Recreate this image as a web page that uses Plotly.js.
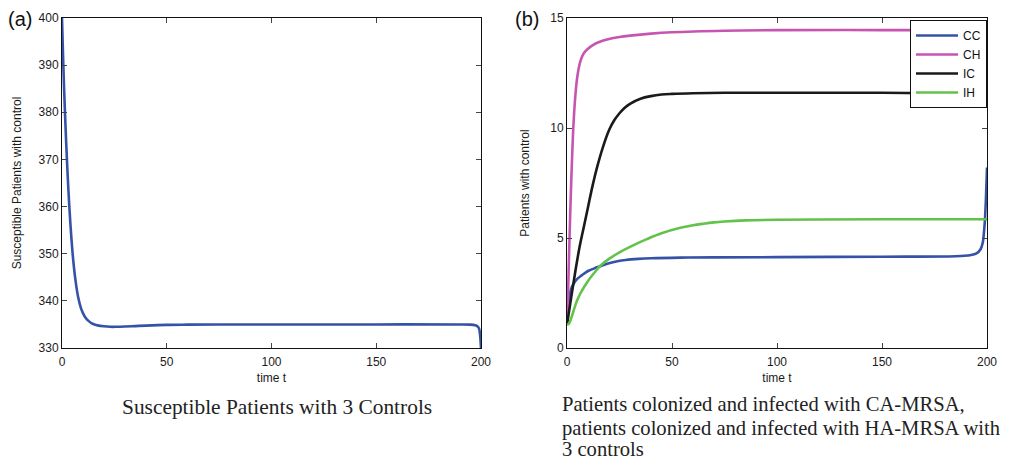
<!DOCTYPE html>
<html>
<head>
<meta charset="utf-8">
<script src="https://cdn.plot.ly/plotly-3.0.1.min.js"></script>
<style>html,body{margin:0;padding:0;background:#fff;}#chart{width:1009px;height:461px;}</style>
</head>
<body>
<div id="chart"></div>
<script>
// Panel (a): susceptible patients
const tS = [0, 0.5, 1, 1.5, 2, 2.5, 3, 3.5, 4, 4.5, 5, 5.5, 6.2, 7, 7.8, 9, 10, 11, 12.5, 14, 15.5, 17, 20, 23, 26, 30, 35, 40, 50, 60, 75, 100, 150, 190, 195, 197, 198, 199, 199.5, 200];
const S  = [400, 392, 385, 379, 373.5, 368.5, 364, 360, 356.4, 353.2, 350.4, 348, 345.2, 342.6, 340.6, 338.5, 337.4, 336.6, 335.8, 335.3, 335.0, 334.8, 334.6, 334.5, 334.5, 334.55, 334.65, 334.75, 334.9, 334.95, 335.0, 335.0, 335.0, 335.0, 334.95, 334.85, 334.7, 334.2, 333.0, 330.0];

// Panel (b): colonized / infected patients
const tCC = [0, 0.5, 1, 1.5, 2, 3, 5, 7, 10, 13, 16, 20, 24, 28, 34, 40, 54, 70, 100, 150, 185, 192, 195, 197, 198, 198.5, 199, 199.5, 200];
const CC  = [1.1, 1.7, 2.2, 2.5, 2.7, 2.9, 3.15, 3.3, 3.5, 3.62, 3.72, 3.85, 3.94, 4.0, 4.05, 4.08, 4.11, 4.12, 4.13, 4.15, 4.17, 4.22, 4.3, 4.5, 4.8, 5.2, 5.8, 6.8, 8.2];

const tCH = [0, 0.5, 1, 1.5, 2, 3, 4, 5, 6, 7, 8, 10, 12.5, 15, 20, 25, 30, 40, 50, 75, 100, 150, 200];
const CH  = [1.05, 2.5, 4.3, 6.0, 7.5, 10.0, 11.5, 12.4, 12.9, 13.2, 13.4, 13.6, 13.78, 13.9, 14.05, 14.14, 14.2, 14.29, 14.35, 14.42, 14.45, 14.45, 14.45];

const tIC = [0, 2, 4, 6, 8, 10, 12, 14, 17, 20, 22.5, 25, 27.5, 30, 35, 40, 45, 50, 60, 75, 100, 150, 195, 200];
const IC  = [1.05, 2.3, 3.5, 4.6, 5.5, 6.4, 7.3, 8.1, 9.1, 9.9, 10.35, 10.67, 10.92, 11.1, 11.33, 11.45, 11.52, 11.55, 11.58, 11.6, 11.6, 11.6, 11.6, 11.7];

const tIH = [0, 1, 2, 3, 4, 5, 6.5, 8, 10, 13, 16, 20, 25, 30, 38, 45, 54, 60, 65, 70, 75, 85, 100, 120, 150, 200];
const IH  = [1.05, 1.12, 1.35, 1.65, 1.95, 2.2, 2.5, 2.75, 3.05, 3.42, 3.75, 4.05, 4.35, 4.6, 4.95, 5.22, 5.47, 5.58, 5.65, 5.71, 5.75, 5.8, 5.83, 5.84, 5.85, 5.85];

const seriesNames = ['CC', 'CH', 'IC', 'IH'];
const xTicks = [0, 50, 100, 150, 200];
const yTicksA = [330, 340, 350, 360, 370, 380, 390, 400];
const yTicksB = [0, 5, 10, 15];

const captionA = 'Susceptible Patients with 3 Controls';
const captionB = ['Patients colonized and infected with CA-MRSA,', 'patients colonized and infected with HA-MRSA with', '3 controls'];

const colors = {S: '#3552a8', CC: '#3552a8', CH: '#c655b2', IC: '#1a1a1a', IH: '#63c24a'};
const LW = 2.6;
const lineStyle = c => ({color: c, width: LW, shape: 'spline', smoothing: 1});

const traces = [
  {x: tS, y: S, xaxis: 'x', yaxis: 'y', mode: 'lines', line: lineStyle(colors.S), showlegend: false},
  {x: tCC, y: CC, xaxis: 'x2', yaxis: 'y2', mode: 'lines', name: seriesNames[0], line: lineStyle(colors.CC)},
  {x: tCH, y: CH, xaxis: 'x2', yaxis: 'y2', mode: 'lines', name: seriesNames[1], line: lineStyle(colors.CH)},
  {x: tIC, y: IC, xaxis: 'x2', yaxis: 'y2', mode: 'lines', name: seriesNames[2], line: lineStyle(colors.IC)},
  {x: tIH, y: IH, xaxis: 'x2', yaxis: 'y2', mode: 'lines', name: seriesNames[3], line: lineStyle(colors.IH)}
];

const W = 1009, H = 461;
const yDom = [1 - 348 / H, 1 - 18 / H];
const sans = 'Liberation Sans, Arial, sans-serif';
const serif = 'Liberation Serif, Times New Roman, serif';
const tickFont = {family: sans, size: 12, color: '#1a1a1a'};
const titleFont = {family: sans, size: 12, color: '#1a1a1a'};

function axisBase(extra) {
  return Object.assign({
    showline: true, linecolor: '#111', linewidth: 1, mirror: 'ticks',
    ticks: 'inside', ticklen: 5, tickwidth: 1, tickcolor: '#444',
    showgrid: false, zeroline: false, tickfont: tickFont, fixedrange: true
  }, extra);
}

const capFont = {family: serif, size: 20.6, color: '#222'};
const annotations = [
  {text: '(a)', xref: 'paper', yref: 'paper', x: 6 / W, y: 1 - 19 / H, xanchor: 'left', yanchor: 'middle', showarrow: false,
    font: {family: sans, size: 20, color: '#111'}},
  {text: '(b)', xref: 'paper', yref: 'paper', x: 513 / W, y: 1 - 19 / H, xanchor: 'left', yanchor: 'middle', showarrow: false,
    font: {family: sans, size: 20, color: '#111'}},
  {text: captionA, xref: 'paper', yref: 'paper', x: 277 / W, y: 1 - 407 / H, xanchor: 'center', yanchor: 'middle', showarrow: false,
    font: {family: serif, size: 21.4, color: '#222'}}
];
const capY = [404, 428, 448.5];
captionB.forEach((t, i) => annotations.push({text: t, xref: 'paper', yref: 'paper', x: 560 / W, y: 1 - capY[i] / H,
  xanchor: 'left', yanchor: 'middle', align: 'left', showarrow: false, font: capFont}));

const layout = {
  width: W, height: H, autosize: false,
  margin: {l: 0, r: 0, t: 0, b: 0},
  paper_bgcolor: '#fff', plot_bgcolor: '#fff',
  xaxis: axisBase({domain: [62 / W, 481 / W], range: [0, 200], tickvals: xTicks, anchor: 'y', ticklabelstandoff: 3,
    title: {text: 'time t', font: titleFont, standoff: 5}}),
  yaxis: axisBase({domain: yDom, range: [330, 400], tickvals: yTicksA, anchor: 'x',
    title: {text: 'Susceptible Patients with control', font: titleFont, standoff: 14}}),
  xaxis2: axisBase({domain: [567 / W, 987 / W], range: [0, 200], tickvals: xTicks, anchor: 'y2', ticklabelstandoff: 3,
    title: {text: 'time t', font: titleFont, standoff: 5}}),
  yaxis2: axisBase({domain: yDom, range: [0, 15], tickvals: yTicksB, anchor: 'x2',
    title: {text: 'Patients with control', font: titleFont, standoff: 18}}),
  legend: {x: 987 / W, xanchor: 'right', y: 1 - 20 / H, yanchor: 'top',
    bgcolor: '#fff', bordercolor: '#111', borderwidth: 1, itemwidth: 42,
    font: {family: sans, size: 12, color: '#111'},
    tracegroupgap: 0},
  annotations: annotations
};

Plotly.newPlot('chart', traces, layout, {displayModeBar: false, staticPlot: true});
</script>
</body>
</html>
